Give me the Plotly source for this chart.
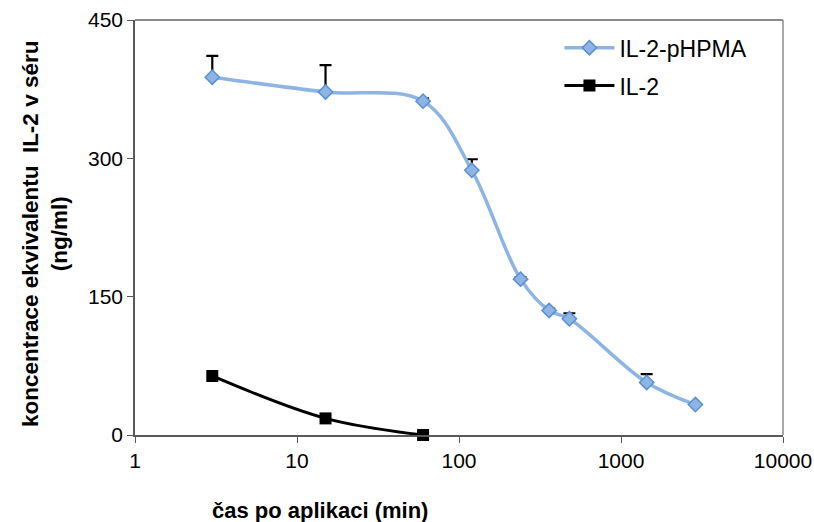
import plotly.graph_objects as go

# Serum concentration time-course (time in minutes, log scale)
time_conj = [3, 15, 60, 120, 240, 360, 480, 1440, 2880]
conc_conj = [388, 372, 362, 287, 169, 135, 126, 57, 33]
err_conj = [23, 29, 3, 12, 2, 2, 6, 9, 0]

time_free = [3, 15, 60]
conc_free = [64, 18, 0]

x_ticks = [1, 10, 100, 1000, 10000]
y_ticks = [0, 150, 300, 450]

FONT = "Liberation Sans, Arial, sans-serif"

fig = go.Figure()

fig.add_trace(go.Scatter(
    x=time_conj, y=conc_conj, name="IL-2-pHPMA", legendgroup="a",
    mode="lines+markers", cliponaxis=False,
    line=dict(color="#8DB4E2", width=3.5, shape="spline", smoothing=1),
    marker=dict(symbol="diamond", size=11, color="#8DB4E2",
                line=dict(color="#5A8FD4", width=1.5)),
    error_y=dict(type="data", symmetric=False, array=err_conj,
                 arrayminus=[0] * len(err_conj), color="black",
                 thickness=2.2, width=6),
))

fig.add_trace(go.Scatter(
    x=time_free, y=conc_free, name="IL-2", legendgroup="b",
    mode="lines+markers", cliponaxis=False,
    line=dict(color="black", width=3, shape="spline", smoothing=1),
    marker=dict(symbol="square", size=12, color="black"),
))

axis_line = "#595959"

fig.update_layout(
    width=814, height=522,
    margin=dict(l=135, r=31, t=20, b=87),
    paper_bgcolor="white", plot_bgcolor="white",
    font=dict(family=FONT, size=21, color="black"),
    showlegend=True,
    legend=dict(x=0.655, y=0.985, xanchor="left", yanchor="top",
                bgcolor="rgba(0,0,0,0)", font=dict(size=23),
                tracegroupgap=5, itemwidth=50),
    xaxis=dict(type="log", range=[0, 4], tickvals=x_ticks,
               ticktext=[str(v) for v in x_ticks], automargin=False,
               showgrid=False, zeroline=False,
               showline=True, linecolor=axis_line, linewidth=1.5,
               ticks="outside", ticklen=6, tickcolor=axis_line,
               tickfont=dict(size=21)),
    yaxis=dict(range=[0, 450], tickvals=y_ticks, automargin=False,
               showgrid=False, zeroline=False,
               showline=True, linecolor=axis_line, linewidth=1.5,
               ticks="outside", ticklen=6, tickcolor=axis_line,
               tickfont=dict(size=21)),
    shapes=[
        dict(type="line", xref="paper", yref="paper", x0=0, x1=1, y0=1, y1=1,
             line=dict(color="#8C8C8C", width=2)),
        dict(type="line", xref="paper", yref="paper", x0=1, x1=1, y0=0, y1=1,
             line=dict(color="#8C8C8C", width=1.5)),
    ],
    annotations=[
        dict(text="<b>čas po aplikaci (min)</b>", xref="paper", yref="paper",
             x=(320 - 135) / 648, y=-(510 - 435) / 415, showarrow=False,
             xanchor="center", yanchor="middle", font=dict(size=22)),
        dict(text="<b>koncentrace ekvivalentu\u00a0 IL-2 v séru<br>(ng/ml)</b>",
             xref="paper", yref="paper",
             x=-(135 - 45) / 648, y=(435 - 234) / 415, showarrow=False,
             textangle=-90, xanchor="center", yanchor="middle",
             font=dict(size=22.5)),
    ],
)

fig.write_html("out.html")
